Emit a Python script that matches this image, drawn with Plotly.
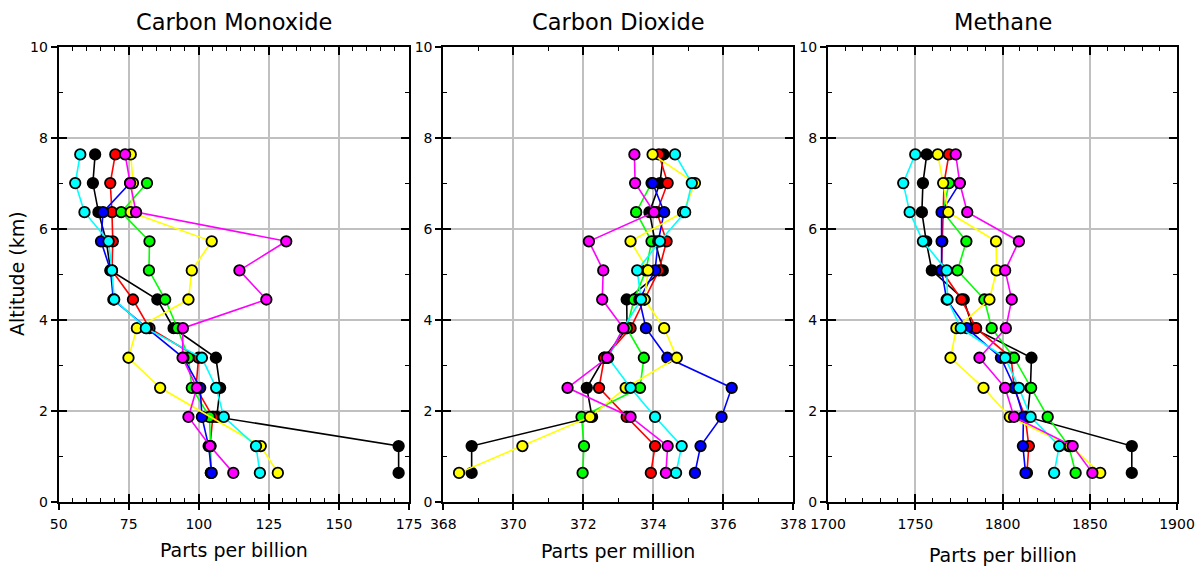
import plotly.graph_objects as go

altitude = [0.64, 1.23, 1.87, 2.51, 3.17, 3.82, 4.45, 5.09, 5.73, 6.37, 7.01, 7.64]

# drawing order (bottom to top)
series_names = ["black", "red", "green", "blue", "yellow", "cyan", "magenta"]
series_colors = ["#000000", "#ff0000", "#00ff00", "#0000ff", "#ffff00", "#00ffff", "#ff00ff"]

# Carbon Monoxide (ppb)
co_black = [171.3, 171.3, 106.4, 107.6, 106.1, 91.0, 85.2, 68.5, 67.0, 64.2, 62.2, 63.0]
co_red = [104.3, 104.0, 105.0, 99.0, 99.9, 82.4, 76.5, 69.0, 69.3, 69.0, 68.4, 70.2]
co_blue = [104.6, 103.5, 101.1, 100.5, 94.5, 81.5, 69.5, 68.5, 65.1, 65.8, 75.5, None]
co_green = [104.3, 104.2, 103.8, 97.5, 96.3, 92.4, 88.0, 82.2, 82.4, 72.3, 81.5, None]
co_yellow = [128.2, 122.1, None, 86.2, 74.9, 77.9, 96.3, 97.5, 104.6, 75.7, 76.5, 75.7]
co_cyan = [121.8, 120.4, 108.9, 106.2, 101.1, 81.1, 69.8, 69.0, 67.8, 59.2, 55.9, 57.7]
co_magenta = [112.3, 104.0, 96.3, 99.3, 94.2, 94.3, 124.1, 114.5, 131.2, 77.6, 75.5, 73.7]

# Carbon Dioxide (ppm)
co2_black = [368.81, 368.81, 372.25, 372.1, 372.6, 373.25, 373.24, 374.27, 374.05, 373.89, 374.19, 374.29]
co2_red = [373.93, 374.05, 373.24, 372.45, 372.6, 373.35, 373.75, 374.16, 374.38, 374.1, 374.41, 374.16]
co2_blue = [375.19, 375.35, 375.95, 376.24, 374.4, 373.79, 373.6, 374.05, 374.14, 374.31, 373.98, None]
co2_green = [371.98, 372.02, 371.95, 373.62, 373.73, 373.24, 373.45, 373.79, 373.95, 373.51, 373.95, None]
co2_yellow = [368.45, 370.26, 372.19, 373.21, 374.67, 374.31, 373.75, 373.85, 373.35, 374.85, 375.19, 373.98]
co2_cyan = [374.65, 374.81, 374.05, 373.35, 372.71, 373.14, 373.65, 373.54, 374.19, 374.91, 375.10, 374.62]
co2_magenta = [374.36, 374.41, 373.35, 371.55, 372.68, 373.15, 372.54, 372.57, 372.16, 374.02, 373.48, 373.46]

# Methane (ppb)
ch4_black = [1874.1, 1874.1, 1814.2, 1816.0, 1816.6, 1783.0, 1777.8, 1759.5, 1756.3, 1753.8, 1754.4, 1756.6]
ch4_red = [1814.0, 1815.1, 1813.0, 1806.6, 1805.0, 1784.9, 1776.5, 1765.0, 1765.5, 1766.0, 1766.5, 1769.3]
ch4_blue = [1813.2, 1811.7, 1812.0, 1807.0, 1799.1, 1779.6, 1768.0, 1765.1, 1765.1, 1765.1, 1775.5, None]
ch4_green = [1841.9, 1838.0, 1825.9, 1816.4, 1806.6, 1793.8, 1789.6, 1774.2, 1779.3, 1766.0, 1769.3, None]
ch4_yellow = [1856.0, 1838.7, 1804.2, 1789.1, 1770.2, 1773.6, 1792.5, 1796.6, 1796.3, 1768.9, 1766.0, 1762.9]
ch4_cyan = [1829.6, 1832.5, 1816.1, 1809.4, 1801.5, 1776.1, 1768.5, 1768.0, 1754.4, 1746.8, 1743.1, 1750.0]
ch4_magenta = [1851.5, 1840.2, 1806.6, 1801.5, 1786.8, 1801.9, 1805.3, 1801.5, 1809.4, 1779.8, 1775.5, 1773.2]

panel_titles = ["Carbon Monoxide", "Carbon Dioxide", "Methane"]
x_titles = ["Parts per billion", "Parts per million", "Parts per billion"]
x_ranges = [[50, 175], [368, 378], [1700, 1900]]
x_dticks = [25, 2, 50]
x_minor = [5, 1, 10]
y_range = [0, 10]
y_dtick = 2

panels = [
    [co_black, co_red, co_green, co_blue, co_yellow, co_cyan, co_magenta],
    [co2_black, co2_red, co2_green, co2_blue, co2_yellow, co2_cyan, co2_magenta],
    [ch4_black, ch4_red, ch4_green, ch4_blue, ch4_yellow, ch4_cyan, ch4_magenta],
]

W, H = 1200, 566
x_px = [(58.7, 409.0), (443.3, 793.3), (828.0, 1177.0)]
y_px = (47.0, 502.0)

FONT = "DejaVu Sans, Liberation Sans, Arial, sans-serif"

fig = go.Figure()

for p, data in enumerate(panels):
    xa = "x" if p == 0 else f"x{p+1}"
    ya = "y" if p == 0 else f"y{p+1}"
    for name, color, vals in zip(series_names, series_colors, data):
        fig.add_trace(go.Scatter(
            x=vals, y=altitude, xaxis=xa, yaxis=ya,
            mode="lines+markers", name=name, showlegend=False,
            connectgaps=True,
            line=dict(color=color, width=1.6),
            marker=dict(symbol="circle", size=10.5, color=color,
                        line=dict(color="black", width=1.8)),
        ))

layout = dict(
    width=W, height=H,
    margin=dict(l=0, r=0, t=0, b=0, autoexpand=False),
    paper_bgcolor="white", plot_bgcolor="white",
    font=dict(family=FONT, color="black"),
    showlegend=False,
)

annotations = []
for p in range(3):
    x0, x1 = x_px[p]
    dom_x = [x0 / W, x1 / W]
    dom_y = [1 - y_px[1] / H, 1 - y_px[0] / H]
    xkey = "xaxis" if p == 0 else f"xaxis{p+1}"
    ykey = "yaxis" if p == 0 else f"yaxis{p+1}"
    yref = "y" if p == 0 else f"y{p+1}"
    xref = "x" if p == 0 else f"x{p+1}"
    layout[xkey] = dict(
        domain=dom_x, anchor=yref, range=x_ranges[p], automargin=False,
        tick0=x_ranges[p][0], dtick=x_dticks[p],
        showgrid=True, gridcolor="#c0c0c0", gridwidth=1.5,
        showline=True, linecolor="black", linewidth=2, mirror="ticks",
        ticks="inside", ticklen=8, tickwidth=1.5, tickcolor="black",
        minor=dict(dtick=x_minor[p], tick0=x_ranges[p][0], ticks="inside",
                   ticklen=4, tickwidth=1.2, tickcolor="black", showgrid=False),
        zeroline=False, ticklabelstandoff=8,
        tickfont=dict(family=FONT, size=14, color="black"),
    )
    layout[ykey] = dict(
        domain=dom_y, anchor=xref, range=y_range, tick0=0, dtick=y_dtick, automargin=False,
        showgrid=True, gridcolor="#c0c0c0", gridwidth=1.5,
        showline=True, linecolor="black", linewidth=2, mirror="ticks",
        ticks="inside", ticklen=8, tickwidth=1.5, tickcolor="black",
        minor=dict(dtick=1, tick0=0, ticks="inside", ticklen=4, tickwidth=1.2,
                   tickcolor="black", showgrid=False),
        zeroline=False, ticklabelstandoff=6,
        tickfont=dict(family=FONT, size=14, color="black"),
    )
    # overlay axes giving the outward half of the crossing major ticks
    ox = 4 + p * 2
    oy = 5 + p * 2
    layout[f"xaxis{ox}"] = dict(
        domain=dom_x, anchor=f"y{oy}", overlaying=xref, range=x_ranges[p],
        tick0=x_ranges[p][0], dtick=x_dticks[p], automargin=False,
        showgrid=False, showline=False, zeroline=False, showticklabels=False,
        ticks="outside", ticklen=7, tickwidth=1.5, tickcolor="black", side="bottom",
    )
    layout[f"yaxis{oy}"] = dict(
        domain=dom_y, anchor=f"x{ox}", overlaying=yref, range=y_range,
        tick0=0, dtick=y_dtick, automargin=False,
        showgrid=False, showline=False, zeroline=False, showticklabels=False,
        ticks="outside", ticklen=7, tickwidth=1.5, tickcolor="black", side="left",
    )
    cx = (x0 + x1) / 2 / W
    annotations.append(dict(
        text=panel_titles[p], x=cx, y=1 - 22 / H, xref="paper", yref="paper",
        xanchor="center", yanchor="middle", showarrow=False,
        font=dict(family=FONT, size=22.5, color="black")))
    ty = [550, 551, 555][p]
    annotations.append(dict(
        text=x_titles[p], x=cx, y=1 - ty / H, xref="paper", yref="paper",
        xanchor="center", yanchor="middle", showarrow=False,
        font=dict(family=FONT, size=19, color="black")))

annotations.append(dict(
    text="Altitude (km)", x=17 / W, y=1 - 274 / H, xref="paper", yref="paper",
    xanchor="center", yanchor="middle", showarrow=False, textangle=-90,
    font=dict(family=FONT, size=19, color="black")))

layout["annotations"] = annotations
fig.update_layout(**layout)

# invisible anchor traces so the overlay axes are drawn
for p in range(3):
    ox = 4 + p * 2
    oy = 5 + p * 2
    fig.add_trace(go.Scatter(x=[None], y=[None], xaxis=f"x{ox}", yaxis=f"y{oy}",
                             mode="markers", showlegend=False, hoverinfo="skip"))

fig.write_html("out.html", config={"displayModeBar": False},
               post_script="document.body.style.margin='0';document.body.style.overflow='hidden';")
